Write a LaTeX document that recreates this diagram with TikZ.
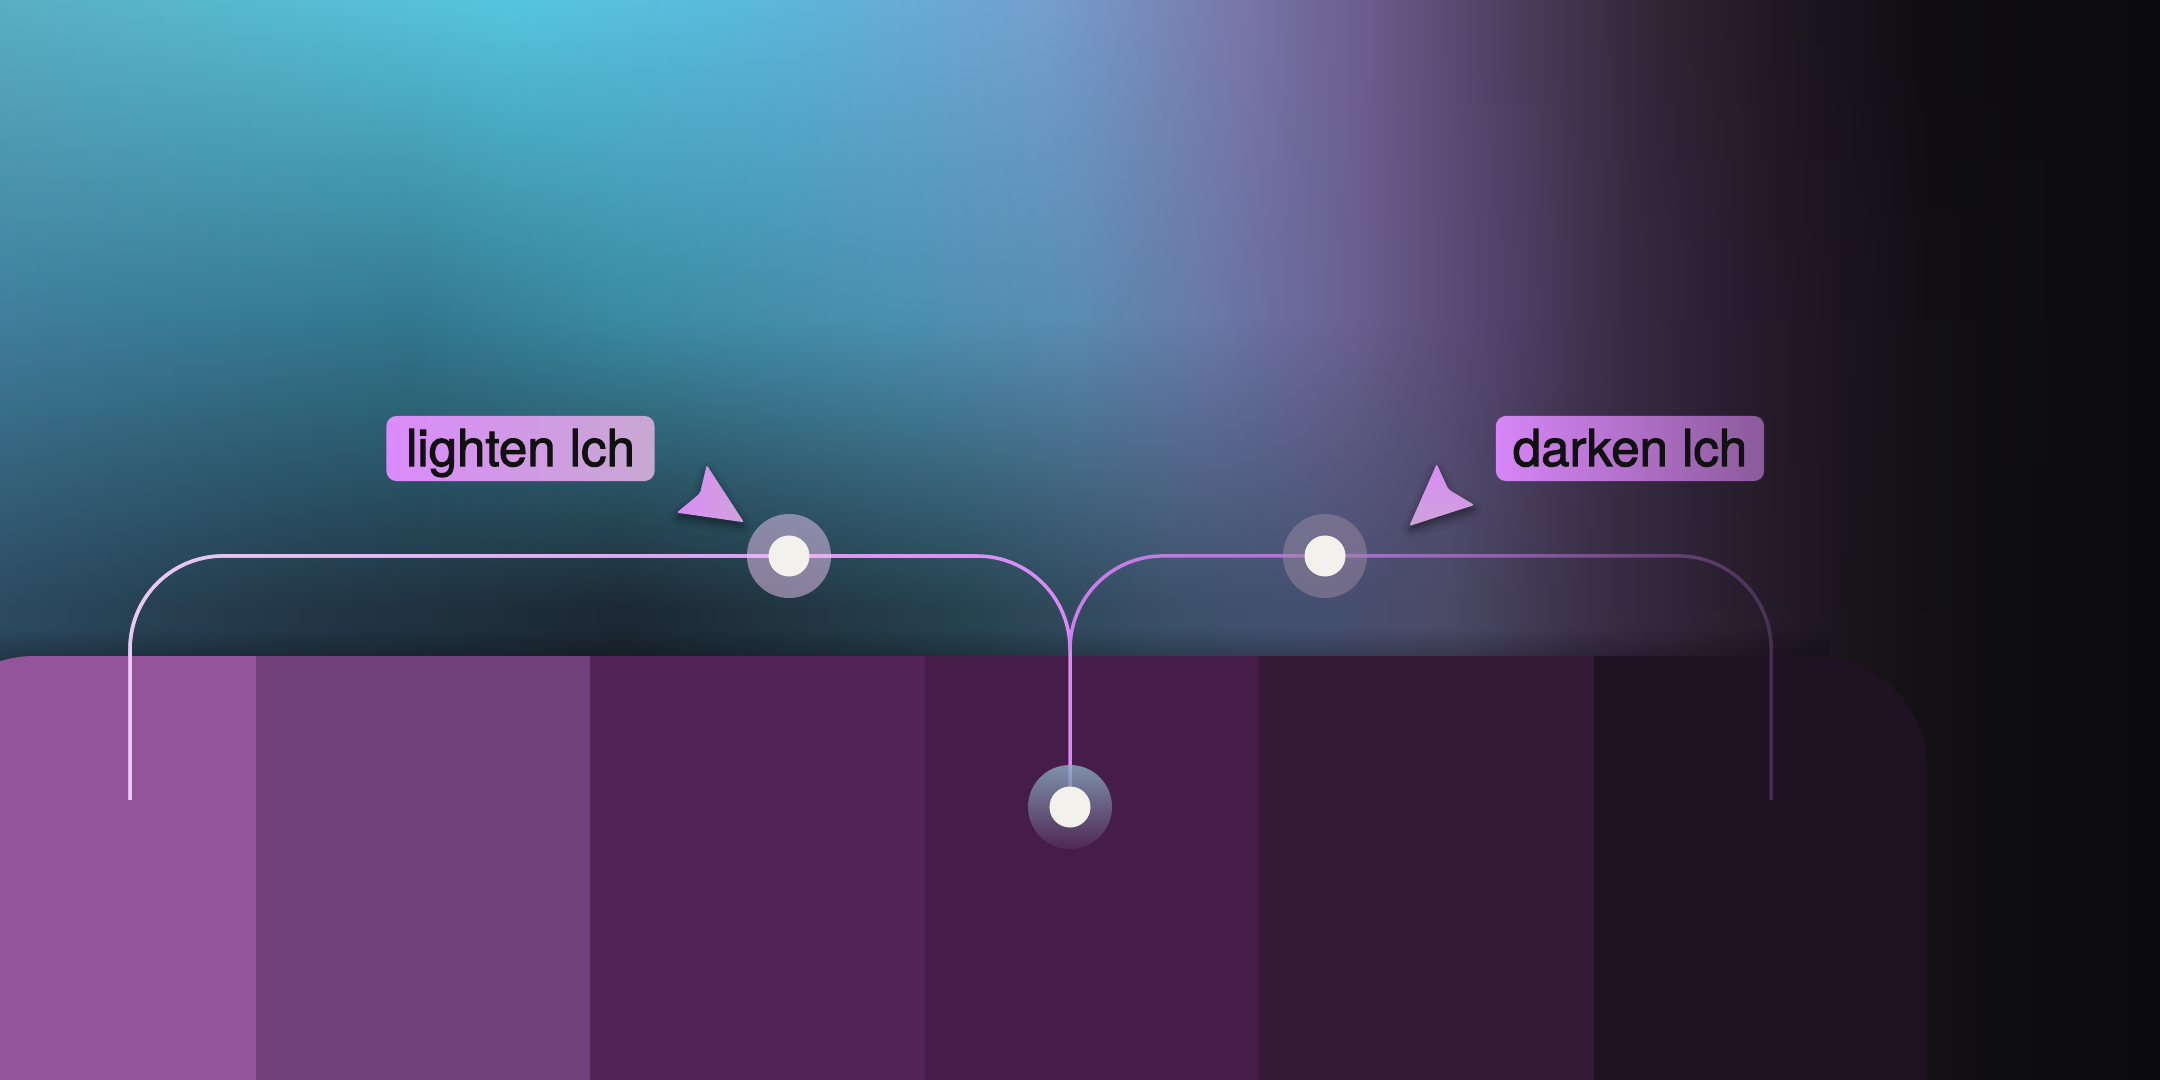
\documentclass[tikz,border=0pt]{standalone}
\usepackage{fontspec}
\setmainfont{TeX Gyre Heros}[FakeBold=2]
\usetikzlibrary{fadings,shadows.blur}
% top row
\definecolor{t0}{HTML}{5AAFC4}\definecolor{t1}{HTML}{56C6DE}\definecolor{t2}{HTML}{5CB8DC}
\definecolor{t3}{HTML}{75A0CE}\definecolor{t4}{HTML}{7A78AA}\definecolor{t5}{HTML}{6A5A8A}
\definecolor{t6}{HTML}{4F3D5E}\definecolor{t7}{HTML}{332436}\definecolor{t8}{HTML}{1D1720}
\definecolor{t9}{HTML}{0F0D11}\definecolor{t10}{HTML}{0B0B0D}
% middle row
\definecolor{m0}{HTML}{3F7E9C}\definecolor{m1}{HTML}{32788F}\definecolor{m2}{HTML}{3A8AA2}
\definecolor{m3}{HTML}{4A90B0}\definecolor{m4}{HTML}{5A8CB2}\definecolor{m5}{HTML}{6A78A8}
\definecolor{m6}{HTML}{6A6090}\definecolor{m7}{HTML}{544670}\definecolor{m8}{HTML}{3A2A44}
\definecolor{m9}{HTML}{251A2C}\definecolor{m10}{HTML}{121014}\definecolor{m11}{HTML}{0B0B0D}
% bottom row
\definecolor{b0}{HTML}{2C4A60}\definecolor{b1}{HTML}{233848}\definecolor{b2}{HTML}{1C2833}
\definecolor{b3}{HTML}{26424F}\definecolor{b4}{HTML}{3A5068}\definecolor{b5}{HTML}{445070}
\definecolor{b6}{HTML}{4A4A66}\definecolor{b7}{HTML}{3A3048}\definecolor{b8}{HTML}{2A2030}
\definecolor{b9}{HTML}{181418}\definecolor{b10}{HTML}{0E0D10}\definecolor{b11}{HTML}{0B0B0D}
\definecolor{sw1}{HTML}{93549C}
\definecolor{sw2}{HTML}{72407A}
\definecolor{sw3}{HTML}{522354}
\definecolor{sw4}{HTML}{461C48}
\definecolor{sw5}{HTML}{351A36}
\definecolor{sw6}{HTML}{1F1222}
\definecolor{lbase}{HTML}{D98AF5}
\definecolor{llight}{HTML}{E6CCEE}
\definecolor{rline}{HTML}{CF7FEE}
\definecolor{haloL}{HTML}{EDC5F2}
\definecolor{haloR}{HTML}{9C8AA4}
\definecolor{haloCt}{HTML}{8BAFC4}
\definecolor{haloCb}{HTML}{532B58}
\definecolor{dotc}{HTML}{F2F1EC}
\definecolor{arrA}{HTML}{D98CF5}
\definecolor{arrB}{HTML}{CFA2DA}
\definecolor{lbA}{HTML}{DA8BFA}
\definecolor{lbB}{HTML}{C8A8D2}
\definecolor{dbA}{HTML}{D686F6}
\definecolor{dbB}{HTML}{8C5A9C}
\definecolor{txt}{HTML}{111111}
\pgfdeclarehorizontalshading{toprow}{100bp}{color(0bp)=(t0); color(25bp)=(t0); color(36.8bp)=(t1); color(42.9bp)=(t2); color(49.2bp)=(t3); color(53.7bp)=(t4); color(56.9bp)=(t5); color(60.1bp)=(t6); color(63.3bp)=(t7); color(66.5bp)=(t8); color(69.7bp)=(t9); color(75bp)=(t10); color(100bp)=(t10)}
\pgfdeclarehorizontalshading{midrow}{100bp}{color(0bp)=(m0); color(25bp)=(m0); color(34.6bp)=(m1); color(39.4bp)=(m2); color(45.7bp)=(m3); color(49.9bp)=(m4); color(53.1bp)=(m5); color(56.3bp)=(m6); color(59.4bp)=(m7); color(62.6bp)=(m8); color(65.8bp)=(m9); color(69.7bp)=(m10); color(75bp)=(m11); color(100bp)=(m11)}
\pgfdeclarehorizontalshading{botrow}{100bp}{color(0bp)=(b0); color(25bp)=(b0); color(31.4bp)=(b1); color(39.4bp)=(b2); color(47.3bp)=(b3); color(52.1bp)=(b4); color(55.3bp)=(b5); color(58.5bp)=(b6); color(61.7bp)=(b7); color(64.9bp)=(b8); color(68.1bp)=(b9); color(71.3bp)=(b10); color(75bp)=(b11); color(100bp)=(b11)}
\tikzfading[name=fadedown, top color=transparent!0, bottom color=transparent!100]
\tikzfading[name=fadeR, left color=transparent!0, right color=transparent!100]
\tikzfading[name=fadeRB, left color=transparent!0, right color=transparent!78]
\tikzfading[name=shadowup, top color=transparent!100, bottom color=transparent!70]
\tikzset{
  halo/.style={circle, minimum size=0.84cm, inner sep=0pt, draw=none},
  dot/.style={circle, minimum size=0.41cm, inner sep=0pt, fill=dotc},
  conn/.style={line width=1pt, rounded corners=0.93cm},
  pointer/.style={rounded corners=0.6pt, blur shadow={shadow xshift=0pt, shadow yshift=-1.4pt, shadow blur radius=2.4pt, shadow opacity=50}},
  labelbox/.style={rounded corners=0.1cm, minimum width=2.68cm, minimum height=0.65cm, inner sep=0pt, text height=10.5pt, text depth=0.54pt, text=txt, font=\fontsize{14.5pt}{17pt}\selectfont}
}
\begin{document}
\begin{tikzpicture}[x=0.01cm,y=-0.01cm]
\useasboundingbox (0,0) rectangle (2160,1080);
% background: three horizontal rows blended vertically
\shade[shading=botrow] (0,320) rectangle (2160,1080);
\shade[shading=midrow, path fading=fadedown] (0,320) rectangle (2160,610);
\shade[shading=midrow] (0,0) rectangle (2160,321);
\shade[shading=toprow, path fading=fadedown] (0,0) rectangle (2160,320);
% card shadow
\fill[black, path fading=shadowup] (0,628) rectangle (1830,664);
% card with swatches
\begin{scope}
\clip[rounded corners=1.12cm] (-78,1200) -- (-78,656) -- (1927,656) -- (1927,1200) -- cycle;
\fill[sw1] (-78,656) rectangle (256,1200);
\fill[sw2] (256,656) rectangle (590,1200);
\fill[sw3] (590,656) rectangle (925,1200);
\fill[sw4] (925,656) rectangle (1259,1200);
\fill[sw5] (1259,656) rectangle (1594,1200);
\fill[sw6] (1594,656) rectangle (1927,1200);
\end{scope}
% named points
\coordinate (pl) at (789,556);
\coordinate (pr) at (1325,556);
\coordinate (pc) at (1070,807);
\coordinate (lend) at (130,800);
\coordinate (lc1) at (130,556);
\coordinate (lc2) at (1070,556);
\coordinate (junc) at (1070,650);
\coordinate (rc2) at (1771,556);
\coordinate (rend) at (1771,800);
% connectors
\draw[conn, lbase] (lend) -- (lc1) -- (lc2) -- (pc);
\draw[conn, llight, path fading=fadeR] (lend) -- (lc1) -- (lc2) -- (pc);
\draw[conn, rline, path fading=fadeRB] (junc) -- (lc2) -- (rc2) -- (rend);
% halos and dots
\node[halo, fill=haloL, fill opacity=0.5] (hl) at (pl) {};
\node[dot] (dl) at (pl) {};
\node[halo, fill=haloR, fill opacity=0.5] (hr) at (pr) {};
\node[dot] (dr) at (pr) {};
\node[halo, top color=haloCt, bottom color=haloCb, fill opacity=0.8] (hc) at (pc) {};
\node[dot] (dc) at (pc) {};
% pointers
\path[pointer, left color=arrA, right color=arrB] (706.7,465) -- (700,493.3) -- (676.7,512.7) -- (744,522.3) -- cycle;
\path[pointer, top color=arrA, bottom color=arrB] (1436.7,464) -- (1448.3,489.3) -- (1474.3,505) -- (1409.3,526) -- cycle;
% labels
\node[labelbox, left color=lbA, right color=lbB] (lighten) at (520.5,448.5) {lighten lch};
\node[labelbox, left color=dbA, right color=dbB] (darken) at (1630,448.5) {darken lch};
\end{tikzpicture}
\end{document}
